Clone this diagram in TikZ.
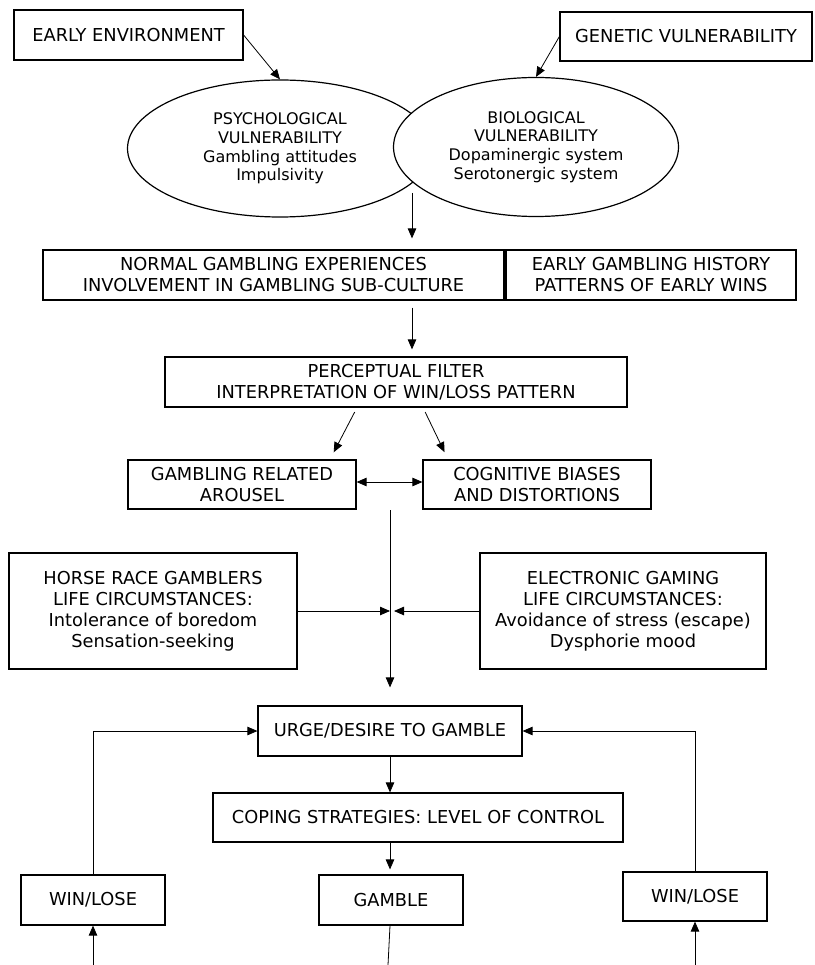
\documentclass[tikz,border=0pt]{standalone}
\usepackage{fontspec}
\setmainfont{DejaVu Sans}
\usetikzlibrary{arrows.meta, shapes.geometric, positioning}

\begin{document}
\begin{tikzpicture}[x=1pt, y=-1pt,
  box/.style={draw, line width=1.2pt, inner sep=0pt, align=center,
    font=\fontsize{17.8}{21}\selectfont},
  oval/.style={draw, ellipse, line width=1.2pt, fill=white, inner sep=0pt,
    align=center, font=\fontsize{16}{18.7}\selectfont},
  arr/.style={-{Triangle[length=10pt,width=8.5pt]}, line width=0.8pt},
  dblarr/.style={{Triangle[length=10pt,width=8.5pt]}-{Triangle[length=10pt,width=8.5pt]}, line width=0.8pt}]
  \useasboundingbox (0,0) rectangle (814,965);
  % vulnerabilities
  \node[box, minimum width=229, minimum height=50] (early) at (128.5,35) {EARLY ENVIRONMENT};
  \node[box, minimum width=252, minimum height=49] (genetic) at (686,36.5) {GENETIC VULNERABILITY};
  \node[oval, minimum width=305, minimum height=137] (psy) at (280,148.5)
    {PSYCHOLOGICAL\\VULNERABILITY\\Gambling attitudes\\Impulsivity};
  \node[oval, minimum width=285, minimum height=139] (bio) at (536,147)
    {BIOLOGICAL\\VULNERABILITY\\Dopaminergic system\\Serotonergic system};
  \draw[arr] (early.east) -- (psy.north);
  \draw[arr] (genetic.west) -- (bio.north);
  % experiences and perceptual filter
  \node[box, minimum width=461, minimum height=50] (normal) at (273.5,275)
    {NORMAL GAMBLING EXPERIENCES\\INVOLVEMENT IN GAMBLING SUB-CULTURE};
  \node[box, minimum width=290, minimum height=50] (history) at (651,275)
    {EARLY GAMBLING HISTORY\\PATTERNS OF EARLY WINS};
  \node[box, minimum width=462, minimum height=50] (filter) at (396,382)
    {PERCEPTUAL FILTER\\INTERPRETATION OF WIN/LOSS PATTERN};
  \coordinate (meet) at (412,193);
  \draw[arr, shorten >=11pt] (meet) -- (meet |- normal.north);
  \draw[arr, shorten <=7pt, shorten >=7pt] (normal.south -| meet) -- (filter.north -| meet);
  % arousal and biases
  \node[box, minimum width=228, minimum height=49] (arousal) at (242,484.5)
    {GAMBLING RELATED\\AROUSEL};
  \node[box, minimum width=228, minimum height=49] (biases) at (537,484.5)
    {COGNITIVE BIASES\\AND DISTORTIONS};
  \draw[arr, shorten <=5pt, shorten >=8pt] ([xshift=-39]filter.south) -- ([xshift=88]arousal.north);
  \draw[arr, shorten <=5pt, shorten >=8pt] ([xshift=27]filter.south) -- ([xshift=-89]biases.north);
  \draw[dblarr] ([yshift=2.5]arousal.east) -- ([yshift=2.5]biases.west);
  % life circumstances
  \node[box, minimum width=288, minimum height=116] (horse) at (153,611)
    {HORSE RACE GAMBLERS\\LIFE CIRCUMSTANCES:\\Intolerance of boredom\\Sensation-seeking};
  \node[box, minimum width=286, minimum height=116] (electronic) at (623,611)
    {ELECTRONIC GAMING\\LIFE CIRCUMSTANCES:\\Avoidance of stress (escape)\\Dysphorie mood};
  % gambling cycle
  \node[box, minimum width=264, minimum height=50] (urge) at (390,731) {URGE/DESIRE TO GAMBLE};
  \node[box, minimum width=410, minimum height=49] (coping) at (418,817.5)
    {COPING STRATEGIES: LEVEL OF CONTROL};
  \node[box, minimum width=144, minimum height=50] (gamble) at (391,900) {GAMBLE};
  \node[box, minimum width=144, minimum height=50] (winl) at (93,900) {WIN/LOSE};
  \node[box, minimum width=144, minimum height=49] (winr) at (695,896.5) {WIN/LOSE};
  \coordinate (top) at (390,510);
  \draw[arr, shorten >=18pt] (top) -- (urge.north);
  \draw[arr] (horse.east) -- (horse.east -| top);
  \draw[arr, shorten >=4pt] (electronic.west) -- (electronic.west -| top);
  \draw[arr] (urge.south) -- (coping.north -| urge.south);
  \draw[arr, shorten >=5pt] (coping.south -| urge.south) -- (gamble.north -| urge.south);
  \draw[arr] (winl.north) |- (urge.west);
  \draw[arr] (winr.north) |- (urge.east);
  % ends leaving the picture
  \coordinate (bl) at (93,965);
  \coordinate (bm) at (388,965);
  \coordinate (br) at (695,965);
  \draw[line width=0.8pt] (gamble.south -| urge.south) -- (bm);
  \draw[arr] (bl) -- (winl.south);
  \draw[arr] (br) -- (winr.south);
\end{tikzpicture}
\end{document}
